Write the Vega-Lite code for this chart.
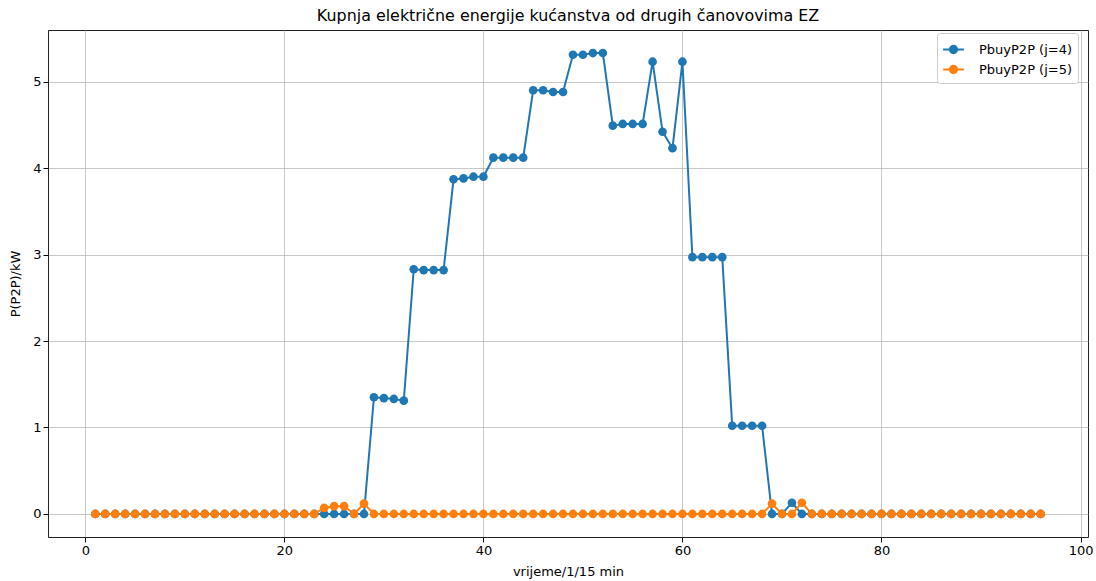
{
  "$schema": "https://vega.github.io/schema/vega-lite/v6.json",
  "autosize": {"type": "none"},
  "width": 1040,
  "height": 507,
  "padding": {"left": 48, "top": 30, "right": 8, "bottom": 44},
  "background": "white",
  "title": {"text": "Kupnja električne energije kućanstva od drugih čanovovima EZ", "font": "DejaVu Sans", "fontSize": 15.9, "fontWeight": "normal", "color": "black", "offset": 6},
  "config": {
    "view": {"stroke": "#222222", "strokeWidth": 1},
    "axis": {"labelFont": "DejaVu Sans", "titleFont": "DejaVu Sans", "labelFontSize": 13, "titleFontSize": 13, "titleFontWeight": "normal", "labelColor": "black", "titleColor": "black", "tickColor": "black", "tickSize": 5, "domain": false, "gridColor": "#b0b0b0", "gridOpacity": 0.7, "gridWidth": 1}
  },
  "data": {"values": [
    {"t":1,"a":0,"b":0},{"t":2,"a":0,"b":0},{"t":3,"a":0,"b":0},{"t":4,"a":0,"b":0},{"t":5,"a":0,"b":0},{"t":6,"a":0,"b":0},{"t":7,"a":0,"b":0},{"t":8,"a":0,"b":0},{"t":9,"a":0,"b":0},{"t":10,"a":0,"b":0},
    {"t":11,"a":0,"b":0},{"t":12,"a":0,"b":0},{"t":13,"a":0,"b":0},{"t":14,"a":0,"b":0},{"t":15,"a":0,"b":0},{"t":16,"a":0,"b":0},{"t":17,"a":0,"b":0},{"t":18,"a":0,"b":0},{"t":19,"a":0,"b":0},{"t":20,"a":0,"b":0},
    {"t":21,"a":0,"b":0},{"t":22,"a":0,"b":0},{"t":23,"a":0,"b":0},{"t":24,"a":0,"b":0.07},{"t":25,"a":0,"b":0.09},{"t":26,"a":0,"b":0.09},{"t":27,"a":0,"b":0},{"t":28,"a":0,"b":0.12},{"t":29,"a":1.35,"b":0},{"t":30,"a":1.34,"b":0},
    {"t":31,"a":1.33,"b":0},{"t":32,"a":1.31,"b":0},{"t":33,"a":2.83,"b":0},{"t":34,"a":2.82,"b":0},{"t":35,"a":2.82,"b":0},{"t":36,"a":2.82,"b":0},{"t":37,"a":3.87,"b":0},{"t":38,"a":3.88,"b":0},{"t":39,"a":3.9,"b":0},{"t":40,"a":3.9,"b":0},
    {"t":41,"a":4.12,"b":0},{"t":42,"a":4.12,"b":0},{"t":43,"a":4.12,"b":0},{"t":44,"a":4.12,"b":0},{"t":45,"a":4.9,"b":0},{"t":46,"a":4.9,"b":0},{"t":47,"a":4.88,"b":0},{"t":48,"a":4.88,"b":0},{"t":49,"a":5.31,"b":0},{"t":50,"a":5.31,"b":0},
    {"t":51,"a":5.33,"b":0},{"t":52,"a":5.33,"b":0},{"t":53,"a":4.49,"b":0},{"t":54,"a":4.51,"b":0},{"t":55,"a":4.51,"b":0},{"t":56,"a":4.51,"b":0},{"t":57,"a":5.23,"b":0},{"t":58,"a":4.42,"b":0},{"t":59,"a":4.23,"b":0},{"t":60,"a":5.23,"b":0},
    {"t":61,"a":2.97,"b":0},{"t":62,"a":2.97,"b":0},{"t":63,"a":2.97,"b":0},{"t":64,"a":2.97,"b":0},{"t":65,"a":1.02,"b":0},{"t":66,"a":1.02,"b":0},{"t":67,"a":1.02,"b":0},{"t":68,"a":1.02,"b":0},{"t":69,"a":0,"b":0.12},{"t":70,"a":0,"b":0},
    {"t":71,"a":0.13,"b":0},{"t":72,"a":0,"b":0.13},{"t":73,"a":0,"b":0},{"t":74,"a":0,"b":0},{"t":75,"a":0,"b":0},{"t":76,"a":0,"b":0},{"t":77,"a":0,"b":0},{"t":78,"a":0,"b":0},{"t":79,"a":0,"b":0},{"t":80,"a":0,"b":0},
    {"t":81,"a":0,"b":0},{"t":82,"a":0,"b":0},{"t":83,"a":0,"b":0},{"t":84,"a":0,"b":0},{"t":85,"a":0,"b":0},{"t":86,"a":0,"b":0},{"t":87,"a":0,"b":0},{"t":88,"a":0,"b":0},{"t":89,"a":0,"b":0},{"t":90,"a":0,"b":0},
    {"t":91,"a":0,"b":0},{"t":92,"a":0,"b":0},{"t":93,"a":0,"b":0},{"t":94,"a":0,"b":0},{"t":95,"a":0,"b":0},{"t":96,"a":0,"b":0}
  ]},
  "transform": [{"fold": ["a", "b"], "as": ["s", "p"]}],
  "encoding": {
    "x": {"field": "t", "type": "quantitative", "scale": {"domain": [-3.75, 100.75], "nice": false, "zero": false}, "axis": {"values": [0, 20, 40, 60, 80, 100], "title": "vrijeme/1/15 min", "titlePadding": 8}},
    "y": {"field": "p", "type": "quantitative", "scale": {"domain": [-0.2665, 5.5965], "nice": false, "zero": false}, "axis": {"values": [0, 1, 2, 3, 4, 5], "title": "P(P2P)/kW", "titlePadding": 10}},
    "color": {"field": "s", "type": "nominal", "scale": {"domain": ["a", "b"], "range": ["#1f77b4", "#ff7f0e"]},
      "legend": {"title": null, "orient": "none", "legendX": 889, "legendY": 3, "padding": 5, "strokeColor": "#cccccc", "fillColor": "white", "cornerRadius": 3,
        "labelExpr": "datum.value == 'a' ? 'PbuyP2P (j=4)' : 'PbuyP2P (j=5)'", "labelFont": "DejaVu Sans", "labelFontSize": 13, "labelColor": "black", "labelOffset": 14,
        "symbolType": "M-1,0H1M0.35,0A0.35,0.35,0,1,1,-0.35,0A0.35,0.35,0,1,1,0.35,0Z", "symbolSize": 430, "symbolStrokeWidth": 2, "rowPadding": 0,
        "encode": {"symbols": {"update": {"fill": {"scale": "color", "field": "value"}, "stroke": {"scale": "color", "field": "value"}, "opacity": {"value": 1}}}}}}
  },
  "layer": [
    {"mark": {"type": "line", "strokeWidth": 2}},
    {"mark": {"type": "point", "filled": true, "shape": "circle", "size": 75, "opacity": 1}}
  ]
}
